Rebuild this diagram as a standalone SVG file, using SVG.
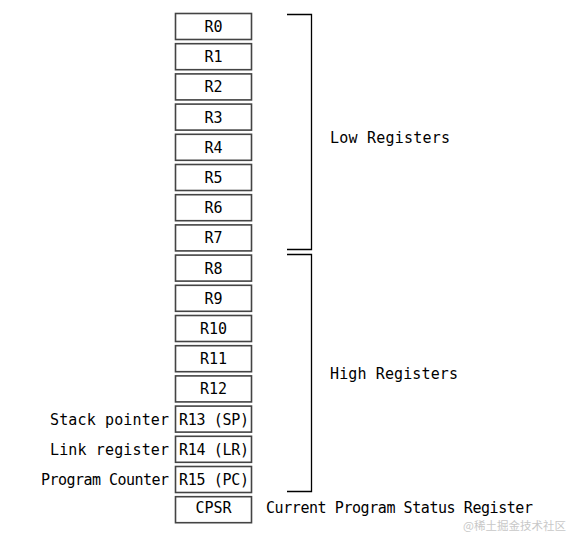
<svg xmlns="http://www.w3.org/2000/svg" width="574" height="535" viewBox="0 0 574 535">
<style>
.b rect{fill:#fff;stroke:#444;stroke-width:1.6}
text{font-family:"DejaVu Sans Mono","Liberation Mono",monospace;font-size:15px;fill:#000}
.c{text-anchor:middle}
.e{text-anchor:end}
.br{fill:none;stroke:#000;stroke-width:1.3}
</style>
<rect width="574" height="535" fill="#fff"/>
<g id="r0" class="b"><rect x="175.5" y="13.5" width="76" height="26"/><text class="c" x="213.5" y="32">R0</text></g>
<g id="r1" class="b"><rect x="175.5" y="43.7" width="76" height="26"/><text class="c" x="213.5" y="62.2">R1</text></g>
<g id="r2" class="b"><rect x="175.5" y="73.9" width="76" height="26"/><text class="c" x="213.5" y="92.4">R2</text></g>
<g id="r3" class="b"><rect x="175.5" y="104.1" width="76" height="26"/><text class="c" x="213.5" y="122.6">R3</text></g>
<g id="r4" class="b"><rect x="175.5" y="134.3" width="76" height="26"/><text class="c" x="213.5" y="152.8">R4</text></g>
<g id="r5" class="b"><rect x="175.5" y="164.5" width="76" height="26"/><text class="c" x="213.5" y="183">R5</text></g>
<g id="r6" class="b"><rect x="175.5" y="194.7" width="76" height="26"/><text class="c" x="213.5" y="213.2">R6</text></g>
<g id="r7" class="b"><rect x="175.5" y="224.9" width="76" height="26"/><text class="c" x="213.5" y="243.4">R7</text></g>
<g id="r8" class="b"><rect x="175.5" y="255.1" width="76" height="26"/><text class="c" x="213.5" y="273.6">R8</text></g>
<g id="r9" class="b"><rect x="175.5" y="285.3" width="76" height="26"/><text class="c" x="213.5" y="303.8">R9</text></g>
<g id="r10" class="b"><rect x="175.5" y="315.5" width="76" height="26"/><text class="c" x="213.5" y="334">R10</text></g>
<g id="r11" class="b"><rect x="175.5" y="345.7" width="76" height="26"/><text class="c" x="213.5" y="364.2">R11</text></g>
<g id="r12" class="b"><rect x="175.5" y="375.9" width="76" height="26"/><text class="c" x="213.5" y="394.4">R12</text></g>
<g id="r13" class="b"><rect x="175.5" y="406.1" width="76" height="26"/><text class="c" x="214" y="424.6" textLength="70">R13 (SP)</text><text class="e" x="169" y="425" textLength="119">Stack pointer</text></g>
<g id="r14" class="b"><rect x="175.5" y="436.3" width="76" height="26"/><text class="c" x="214" y="454.8" textLength="70">R14 (LR)</text><text class="e" x="169" y="455.2" textLength="119">Link register</text></g>
<g id="r15" class="b"><rect x="175.5" y="466.5" width="76" height="26"/><text class="c" x="214" y="485" textLength="70">R15 (PC)</text><text class="e" x="169" y="485.4" textLength="128">Program Counter</text></g>
<g id="cpsr" class="b"><rect x="175.5" y="496.7" width="76" height="26"/><text class="c" x="213.5" y="512.5">CPSR</text><text x="266" y="513" textLength="267">Current Program Status Register</text></g>
<g id="connectors">
<path class="br" d="M287 14.5H311.5V249.5H287"/>
<path class="br" d="M287 254.5H311.5V491.5H287"/>
</g>
<g id="low"><text x="330" y="143" textLength="120">Low Registers</text></g>
<g id="high"><text x="330" y="379" textLength="128">High Registers</text></g>
<text x="463" y="530" style="font-family:'Noto Sans CJK SC','Noto Sans',sans-serif;font-size:11.5px;fill:#c8c8c8">@稀土掘金技术社区</text>
</svg>
